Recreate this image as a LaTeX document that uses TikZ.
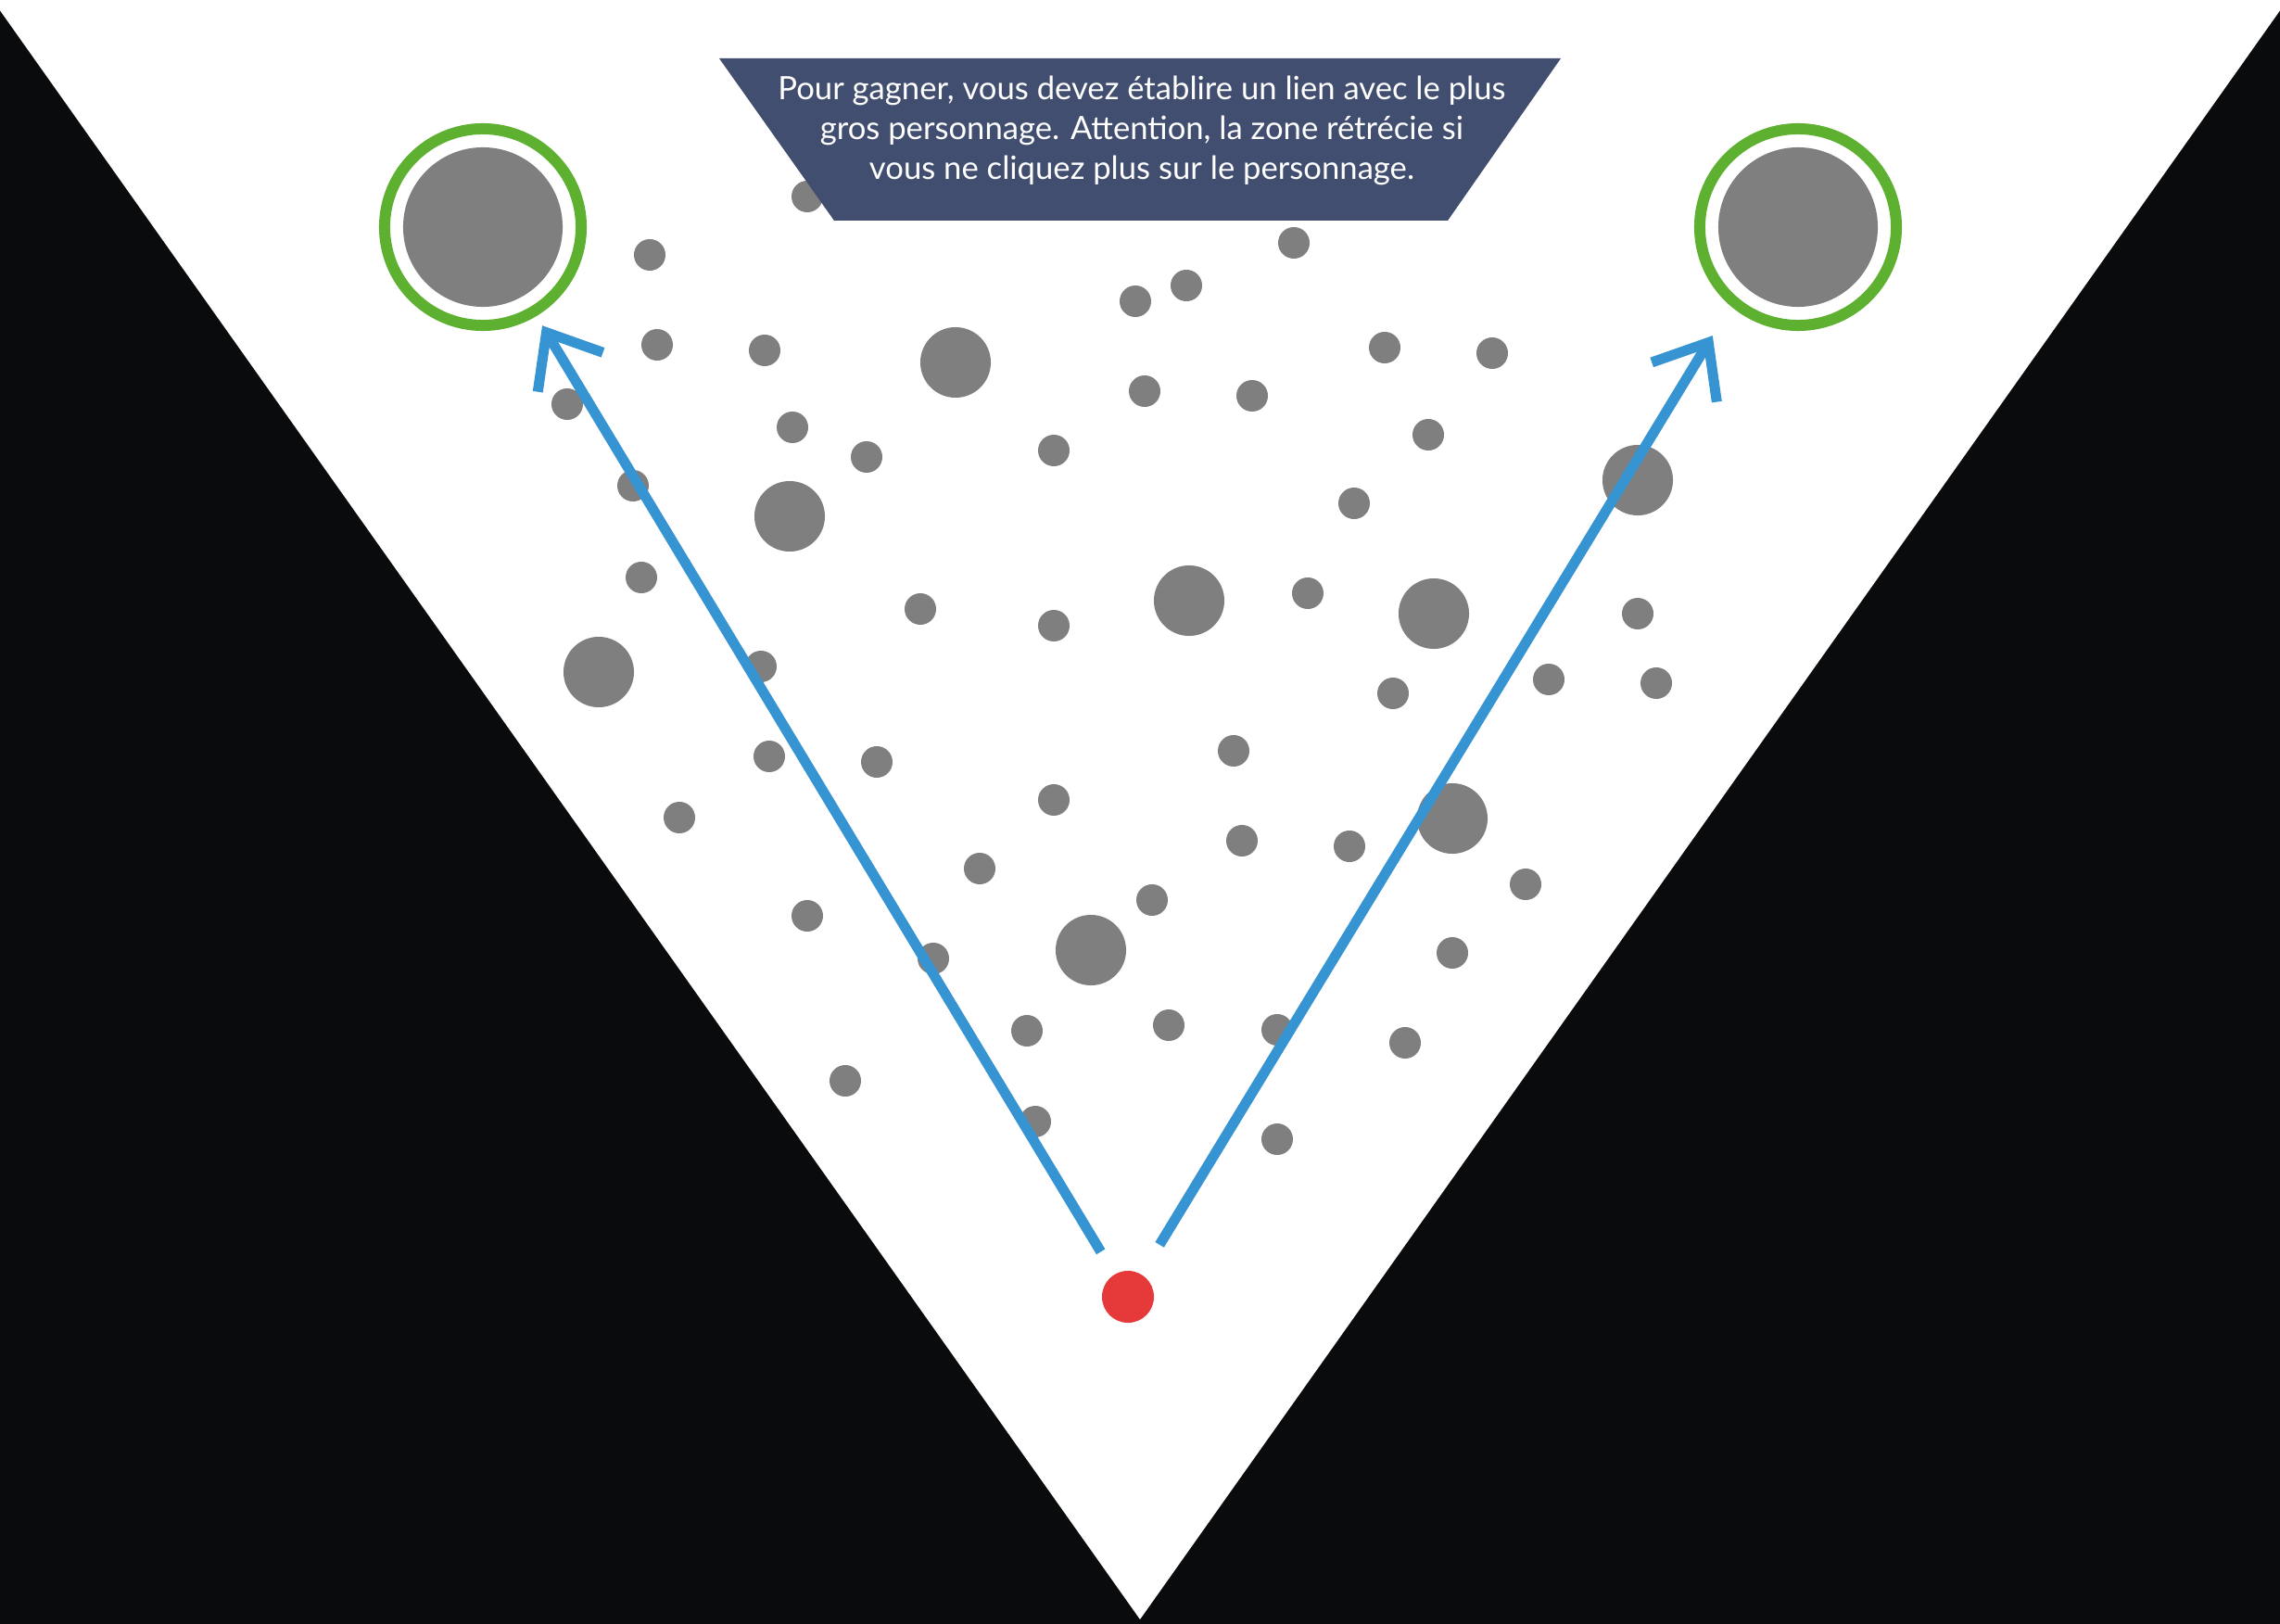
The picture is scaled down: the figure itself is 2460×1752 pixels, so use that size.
\documentclass[tikz,border=0pt]{standalone}
\usepackage{fontspec}
\setmainfont{Lato}
\usetikzlibrary{arrows.meta}
\definecolor{nightblack}{HTML}{0A0B0D}
\definecolor{bannerblue}{HTML}{424E6F}
\definecolor{ringgreen}{HTML}{5EB130}
\definecolor{dotgray}{HTML}{7F7F7F}
\definecolor{playerred}{HTML}{E5393A}
\definecolor{linkblue}{HTML}{3594D1}

\begin{document}
\begin{tikzpicture}[x=0.01cm,y=-0.01cm,
  dot/.style={circle,fill=dotgray,inner sep=0pt,minimum size=0.34cm},
  bigdot/.style={dot,minimum size=0.76cm},
  ring/.style={circle,draw=ringgreen,line width=0.12cm,inner sep=0pt,minimum size=2.12cm},
  target/.style={dot,minimum size=1.72cm},
  player/.style={circle,fill=playerred,inner sep=0pt,minimum size=0.56cm},
  link/.style={draw=linkblue,line width=0.11cm,-{Straight Barb[length=0.5cm,width=0.82cm]}}]
\useasboundingbox (0,0) rectangle (2460,1752);
\fill [nightblack] (0,0) rectangle (2460,1752);
\fill [white] (-8,0) -- (2468,0) -- (1230,1747) -- cycle;
% small characters
\foreach \px/\py [count=\k] in {871/212, 701/275, 1396/262, 1225/325, 1280/308,
  709/372, 825/378, 1494/375, 1610/381, 612/436, 1235/422, 1351/427, 855/461,
  935/493, 1137/486, 1541/469, 683/524, 1461/543, 692/623, 993/657, 1137/675,
  1411/640, 1767/662, 821/719, 1503/748, 1671/733, 1787/737, 830/816, 946/822,
  1331/810, 1137/863, 733/882, 1340/907, 1456/913, 1057/937, 1646/954, 871/988,
  1243/971, 1007/1034, 1567/1028, 1108/1112, 1261/1106, 1378/1111, 1516/1125,
  912/1166, 1117/1210, 1378/1229}
  \node [dot] (d\k) at (\px,\py) {};
% bigger characters
\foreach \px/\py [count=\k] in {1031/391, 852/557, 1767/518, 1283/648, 1547/662,
  646/725, 1567/883, 1177/1025}
  \node [bigdot] (b\k) at (\px,\py) {};
% rule banner
\fill [bannerblue] (776,63) -- (1684,63) -- (1562,238) -- (900,238) -- cycle;
\node [text=white,align=center,font=\fontsize{9.85}{12.2}\selectfont] (rule) at (1232,141)
  {Pour gagner, vous devez établire un lien avec le plus\\
   gros personnage. Attention, la zone rétrécie si\\
   vous ne cliquez plus sur le personnage.};
% biggest characters
\node [ring] (ringL) at (521,245) {};
\node [target] (targetL) at (ringL) {};
\node [ring] (ringR) at (1940,245) {};
\node [target] (targetR) at (ringR) {};
\coordinate (aimR) at (1919,245);
% player and links
\node [player] (me) at (1217,1399) {};
\draw [link,shorten <=0.28cm,shorten >=0.12cm] (me) -- (ringL);
\draw [link,shorten <=0.37cm,shorten >=1.37cm] (me) -- (aimR);
\end{tikzpicture}
\end{document}
